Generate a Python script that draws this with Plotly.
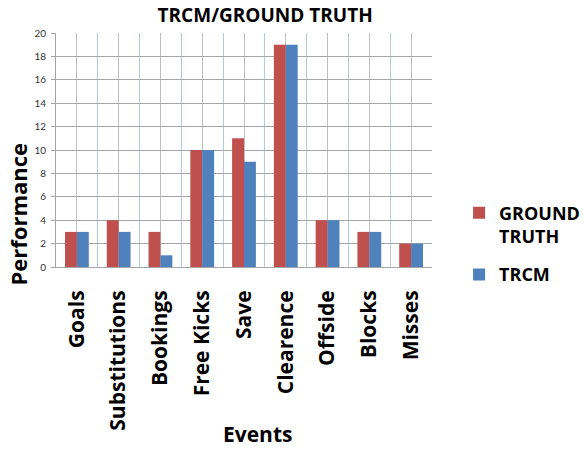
import plotly.graph_objects as go

events = ["Goals", "Substitutions", "Bookings", "Free Kicks", "Save",
          "Clearence", "Offside", "Blocks", "Misses"]
ground_truth = [3, 4, 3, 10, 11, 19, 4, 3, 2]
trcm = [3, 3, 1, 10, 9, 19, 4, 3, 2]
y_ticks = list(range(0, 21, 2))

RED = "#C0504D"
BLUE = "#4F81BD"
FONT = "'Open Sans', Lato, sans-serif"
TICK_FONT = "Lato, sans-serif"

xpos = list(range(len(events)))

fig = go.Figure()
fig.add_trace(go.Bar(x=xpos, y=ground_truth, name="<b>GROUND<br>TRUTH</b>",
                     legendgroup="gt",
                     marker=dict(color=RED, line=dict(width=0))))
fig.add_trace(go.Bar(x=xpos, y=trcm, name="<b>TRCM</b>",
                     legendgroup="trcm",
                     marker=dict(color=BLUE, line=dict(width=0))))

fig.update_layout(
    width=584, height=449,
    margin=dict(l=56, r=152, t=33, b=182, autoexpand=False),
    paper_bgcolor="white", plot_bgcolor="white",
    barmode="group", bargap=0.43, bargroupgap=0,
    font=dict(family=FONT, color="black"),
    title=dict(text="<b>TRCM/GROUND TRUTH</b>", x=0.454, xanchor="center",
               y=0.965, yanchor="middle", font=dict(size=19, family=FONT)),
    legend=dict(x=1.072, xanchor="left", y=0.31, yanchor="top",
                font=dict(size=18, family=FONT), valign="top",
                tracegroupgap=12, itemwidth=30, bgcolor="rgba(0,0,0,0)"),
    showlegend=True,
)

fig.update_xaxes(
    range=[-0.5, len(events) - 0.5],
    tickmode="array", tickvals=xpos,
    ticktext=[f"<b>{e}</b>" for e in events],
    tickangle=-90, tickfont=dict(size=21, family=FONT),
    ticks="", ticklabelstandoff=14,
    showgrid=True, gridcolor="#BFBFBF", gridwidth=1,
    minor=dict(tick0=0.5, dtick=1, showgrid=True, gridcolor="#B4C7E7", gridwidth=1),
    showline=True, linecolor="#A6A6A6", linewidth=1,
    zeroline=False,
)
fig.update_yaxes(
    range=[0, 20], tickmode="array", tickvals=y_ticks,
    tickfont=dict(size=10, family=TICK_FONT, color="#333333"),
    ticks="outside", ticklen=4, tickcolor="#A6A6A6", ticklabelstandoff=3,
    showgrid=True, gridcolor="#A6A6A6", gridwidth=1,
    showline=True, linecolor="#A6A6A6", linewidth=1,
    zeroline=False,
)

# axis titles placed as free annotations
fig.add_annotation(text="<b>Performance</b>", xref="paper", yref="paper",
                   x=-0.1, y=0.226, xanchor="center", yanchor="middle",
                   textangle=-90, showarrow=False,
                   font=dict(size=22, family=FONT))
fig.add_annotation(text="<b>Events</b>", xref="paper", yref="paper",
                   x=0.535, y=-0.715, xanchor="center", yanchor="middle",
                   showarrow=False, font=dict(size=21, family=FONT))

fig.write_html("out.html")
